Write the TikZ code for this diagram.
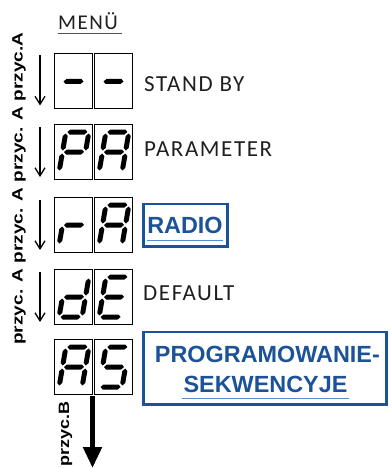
\documentclass[tikz,border=0pt]{standalone}
\usepackage{fontspec}
\usepackage{graphicx}
\setmainfont{Liberation Sans}
\newfontfamily\lightfont[LetterSpace=7]{Carlito}
\usetikzlibrary{arrows.meta}
\definecolor{boxblue}{RGB}{28,82,152}
\definecolor{ulblue}{RGB}{92,140,200}
\definecolor{ulgray}{RGB}{80,80,80}

\newcommand\hsegment[3]{\fill (#1,#3) -- ({#1+2.5},{#3-2.5}) -- ({#2-2.5},{#3-2.5}) -- (#2,#3) -- ({#2-2.5},{#3+2.5}) -- ({#1+2.5},{#3+2.5}) -- cycle;}
\newcommand\vsegment[3]{\fill (#1,#2) -- ({#1+2.5},{#2+2.5}) -- ({#1+2.5},{#3-2.5}) -- (#1,#3) -- ({#1-2.5},{#3-2.5}) -- ({#1-2.5},{#2+2.5}) -- cycle;}
\newcommand\segA{\hsegment{-10}{10}{-20}}
\newcommand\segG{\hsegment{-10}{10}{0}}
\newcommand\segD{\hsegment{-10}{10}{20}}
\newcommand\segF{\vsegment{-11.5}{-18.5}{-1.5}}
\newcommand\segB{\vsegment{11.5}{-18.5}{-1.5}}
\newcommand\segE{\vsegment{-11.5}{1.5}{18.5}}
\newcommand\segC{\vsegment{11.5}{1.5}{18.5}}
\newcommand\sevendigit[3]{\begin{scope}[shift={(#1,#2)},xslant=0.17]\foreach \s in {#3}{\csname seg\s\endcsname}\end{scope}}

\tikzset{
  digbox/.style={draw, line width=0.9pt, minimum width=38pt, minimum height=55pt, inner sep=0pt},
  lbl/.style={font={\lightfont\fontsize{23}{27}\selectfont}, inner sep=0pt, text=black!88, anchor=base west},
  menulbl/.style={font={\lightfont\fontsize{21}{25}\selectfont}, inner sep=0pt, text=black!88, anchor=base west},
  bluebox/.style={draw=boxblue, line width=2.7pt, inner sep=0pt},
  bluetext/.style={font={\fontsize{23.4}{28}\selectfont\bfseries}, text=boxblue, inner sep=0pt},
  sidelbl/.style={font={\fontsize{15}{17}\selectfont\bfseries}, inner sep=0pt, rotate=90, anchor=base},
  thinarrow/.style={line width=1.3pt, -{Straight Barb[length=8pt,width=10pt]}},
  thickarrow/.style={line width=5pt, -{Triangle[length=21pt,width=18pt]}},
  ulline/.style={draw=ulblue, line width=1.5pt}
}

\begin{document}
\begin{tikzpicture}[x=1pt,y=-1pt]
\useasboundingbox (0,0) rectangle (388,468);

% title
\node[menulbl] (menu) at (58,30) {MENÜ};
\coordinate (mu1) at (57.5,33.5);
\coordinate (mu2) at (122,33.5);
\draw[draw=ulgray, line width=1.6pt] (mu1) -- (mu2);

% digit boxes
\foreach \r/\y in {1/80.5,2/152,3/225,4/297,5/367}{
  \node[digbox] (l\r) at (73,\y) {};
  \node[digbox] (r\r) at (113,\y) {};
}
\sevendigit{73.5}{81.5}{G}
\sevendigit{113.5}{81.5}{G}
\sevendigit{74}{152}{A,B,F,E,G}
\sevendigit{114}{152}{A,B,C,E,F,G}
\sevendigit{74}{225}{E,G}
\sevendigit{114}{225}{A,B,C,E,F,G}
\sevendigit{74}{297}{B,C,D,E,G}
\sevendigit{114}{297}{A,D,E,F,G}
\sevendigit{74}{367}{A,B,C,E,F,G}
\sevendigit{114}{367}{A,F,G,C,D}

% thin arrows
\foreach \r/\y in {1/80.5,2/152,3/225,4/297}{
  \coordinate (as\r) at (40,\y-25);
  \coordinate (ae\r) at (40,\y+25);
  \draw[thinarrow] (as\r) -- (ae\r);
}
\node[sidelbl] (przA) at (22.5,188.5) {\scalebox{1.27}[1]{przyc. A przyc. A przyc. A przyc.A}};

% thick arrow
\coordinate (bs) at (92.5,395.5);
\coordinate (be) at (92.5,468);
\draw[thickarrow] (bs) -- (be);
\node[sidelbl] (przB) at (69,434) {\scalebox{1.2}[1]{przyc.B}};

% labels
\node[lbl] (standby) at (144,92) {STAND BY};
\node[lbl] (param) at (144,156.7) {PARAMETER};
\node[lbl] (default) at (143,300) {DEFAULT};

\node[bluebox, minimum width=84pt, minimum height=42.7pt] (radiobox) at (185.3,225.3) {};
\node[bluetext] (radio) at (185,225) {RADIO};
\coordinate (ru1) at (147,240.7);
\coordinate (ru2) at (223,240.7);
\draw[ulline] (ru1) -- (ru2);

\node[bluebox, minimum width=243.4pt, minimum height=72.7pt] (progbox) at (265,368.3) {};
\node[bluetext] (prog1) at (267.4,354.5) {PROGRAMOWANIE-};
\node[bluetext] (prog2) at (265.5,384.4) {SEKWENCYJE};
\coordinate (pu1) at (181.7,398.7);
\coordinate (pu2) at (349.3,398.7);
\draw[ulline] (pu1) -- (pu2);
\end{tikzpicture}
\end{document}
